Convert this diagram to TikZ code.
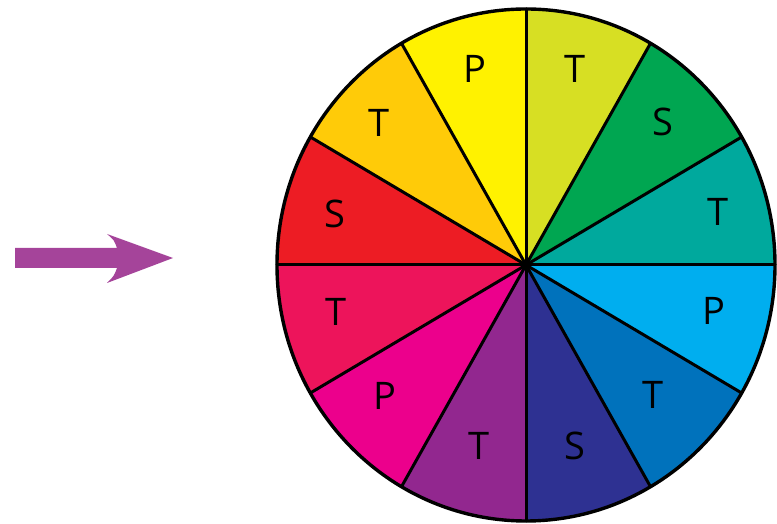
\documentclass[tikz,border=0pt]{standalone}
\usepackage{fontspec}
\setmainfont{Open Sans}
\usetikzlibrary{calc}
\definecolor{cA}{HTML}{D7DF23}
\definecolor{cB}{HTML}{00A651}
\definecolor{cC}{HTML}{00A99D}
\definecolor{cD}{HTML}{00AEEF}
\definecolor{cE}{HTML}{0072BC}
\definecolor{cF}{HTML}{2E3192}
\definecolor{cG}{HTML}{92278F}
\definecolor{cH}{HTML}{EC008C}
\definecolor{cI}{HTML}{ED145B}
\definecolor{cJ}{HTML}{ED1C24}
\definecolor{cK}{HTML}{FFCB08}
\definecolor{cL}{HTML}{FFF200}
\definecolor{arrowc}{HTML}{A5449A}
\tikzset{
  lbl/.style={font=\fontsize{38}{38}\selectfont, inner sep=0pt, text=black},
}
\begin{document}
\begin{tikzpicture}[x=1pt,y=1pt]
\useasboundingbox (0,0) rectangle (777,524);
\coordinate (c) at (526,259);
% sectors (parametric ellipse angles)
\foreach \a/\col in {60/cA,30/cB,0/cC,-30/cD,-60/cE,-90/cF,-120/cG,-150/cH,-180/cI,150/cJ,120/cK,90/cL}{
  \fill[\col] (c) -- ($(c)+(\a:249 and 256)$) arc[start angle=\a, end angle=\a+30, x radius=249, y radius=256] -- cycle;
}
\foreach \a in {0,30,...,330}{
  \draw[line width=3pt, line cap=round] (c) -- ($(c)+(\a:249 and 256)$);
}
\fill (c) circle (4);
\draw[line width=3.4pt] (c) ellipse [x radius=249, y radius=256];
% labels
\node[lbl] (l1) at ($(c)+(-51,196)$) {P};
\node[lbl] (l2) at ($(c)+(49,196)$) {T};
\node[lbl] (l3) at ($(c)+(137,143)$) {S};
\node[lbl] (l4) at ($(c)+(192,53)$) {T};
\node[lbl] (l5) at ($(c)+(188,-46)$) {P};
\node[lbl] (l6) at ($(c)+(127,-130)$) {T};
\node[lbl] (l7) at ($(c)+(49,-181)$) {S};
\node[lbl] (l8) at ($(c)+(-47,-181)$) {T};
\node[lbl] (l9) at ($(c)+(-141,-131)$) {P};
\node[lbl] (l10) at ($(c)+(-190,-47)$) {T};
\node[lbl] (l11) at ($(c)+(-191,51)$) {S};
\node[lbl] (l12) at ($(c)+(-147,142)$) {T};
% arrow
\fill[arrowc] (15,276) -- (117,276) .. controls (114,284) .. (107,290) -- (173,266) -- (107,241) .. controls (114,248) .. (117,256) -- (15,256) -- cycle;
\end{tikzpicture}
\end{document}
